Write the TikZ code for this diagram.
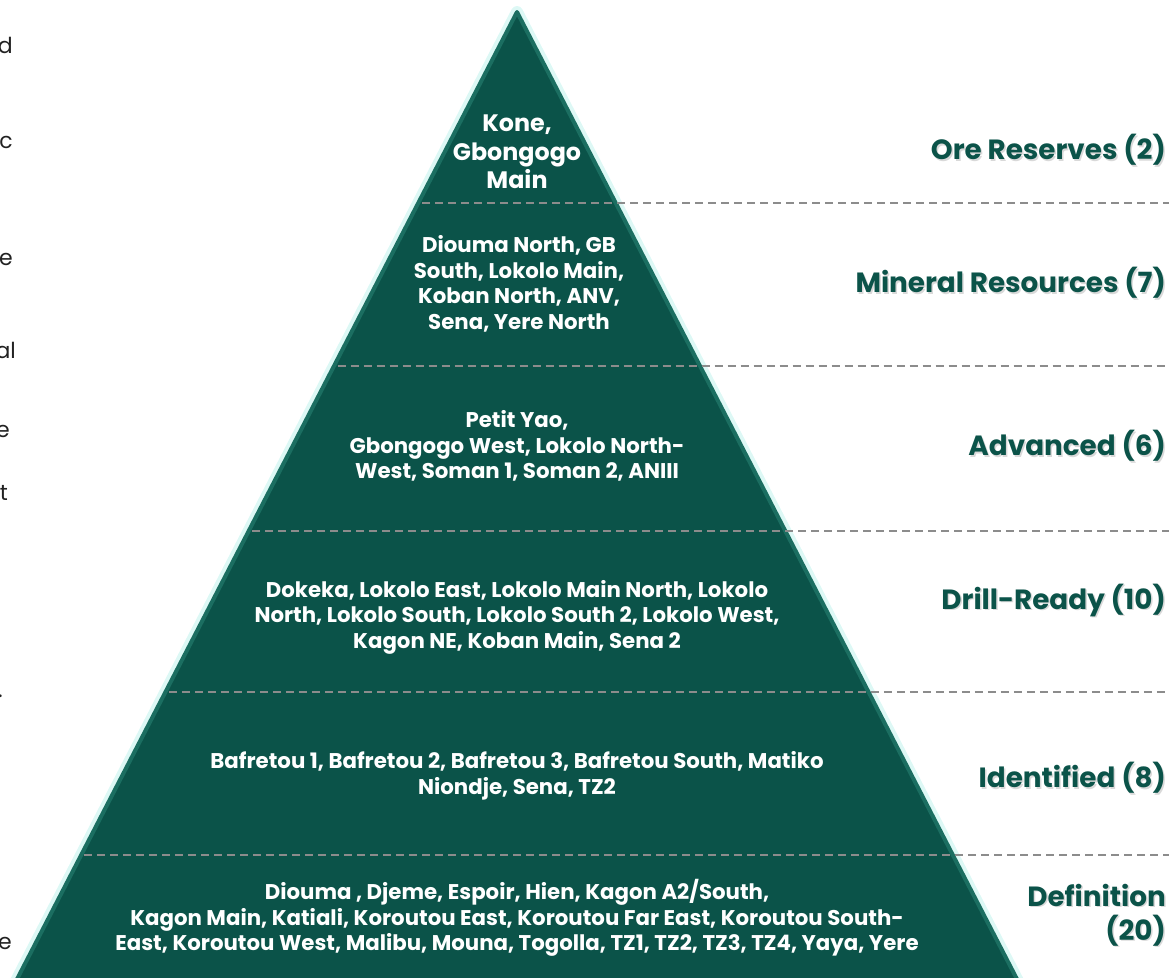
\documentclass[tikz,border=0pt]{standalone}
\usepackage{fontspec}
\setmainfont{Poppins}
\usetikzlibrary{positioning}
\definecolor{pineteal}{HTML}{0B5349}
\definecolor{edgeteal}{HTML}{1B6E61}
\definecolor{glowcyan}{HTML}{DDF8F5}
\definecolor{sepgray}{HTML}{8C8C8C}
\definecolor{inkgray}{HTML}{222222}

\tikzset{
  tiertext/.style={align=center, text=white, inner sep=0pt, font=\bfseries\fontsize{21.3}{25.5}\selectfont},
  toptext/.style={tiertext, font=\bfseries\fontsize{23.8}{28.5}\selectfont},
  stagelabel/.style={anchor=east, align=right, text=pineteal, inner sep=0pt, font=\bfseries\fontsize{27.8}{34}\selectfont},
  stageshadow/.style={stagelabel, text=black, opacity=.15},
  separator/.style={sepgray, line width=1.8pt, dash pattern=on 8pt off 5pt},
  clipped/.style={anchor=base east, text=inkgray, inner sep=0pt, font=\fontsize{22}{26}\selectfont}
}

\begin{document}
\begin{tikzpicture}[x=1pt, y=-1pt]
    \useasboundingbox (0,0) rectangle (1169,977);

    % pyramid body
    \coordinate (apex) at (517,12);
    \coordinate (baseL) at (11.4,990);
    \coordinate (baseR) at (1022.6,990);
    \draw[glowcyan, line width=12pt, line join=round] (apex) -- (baseL) -- (baseR) -- cycle;
    \fill[pineteal] (apex) -- (baseL) -- (baseR) -- cycle;
    \draw[edgeteal, line width=4pt, line join=round] (apex) -- (baseL) -- (baseR) -- cycle;

    % tier separators
    \foreach \y in {203,366,531,692,855}
        \draw[separator] ({521-0.518*(\y-12)},\y) -- (1169,\y);

    % tier contents
    \node (ore) [toptext] at (517,152) {Kone,\\Gbongogo\\Main};
    \node (mineral) [tiertext] at (519,284) {Diouma North, GB\\South, Lokolo Main,\\Koban North, ANV,\\Sena, Yere North};
    \node (advanced) [tiertext] at (517,446) {Petit Yao,\\Gbongogo West, Lokolo North-\\West, Soman 1, Soman 2, ANIII};
    \node (drill) [tiertext] at (517,617) {Dokeka, Lokolo East, Lokolo Main North, Lokolo\\North, Lokolo South, Lokolo South 2, Lokolo West,\\Kagon NE, Koban Main, Sena 2};
    \node (identified) [tiertext] at (517,776) {Bafretou 1, Bafretou 2, Bafretou 3, Bafretou South, Matiko\\Niondje, Sena, TZ2};
    \node (definition) [tiertext] at (517,918) {Diouma , Djeme, Espoir, Hien, Kagon A2/South,\\Kagon Main, Katiali, Koroutou East, Koroutou Far East, Koroutou South-\\East, Koroutou West, Malibu, Mouna, Togolla, TZ1, TZ2, TZ3, TZ4, Yaya, Yere};

    % stage labels on the right
    \foreach \y/\name/\txt in {150/oreLbl/{Ore Reserves (2)}, 283/mineralLbl/{Mineral Resources (7)},
                              446/advancedLbl/{Advanced (6)}, 600/drillLbl/{Drill-Ready (10)},
                              778/identifiedLbl/{Identified (8)}, 915/definitionLbl/{Definition\\(20)}} {
        \node (\name-sh) [stageshadow] at (1167.5,\y+1.5) {\txt};
        \node (\name) [stagelabel] at (1166,\y) {\txt};
    }

    % text cut off at the left margin
    \node (frag1) [clipped] at (13,53) {d};
    \node (frag2) [clipped] at (13,148) {c};
    \node (frag3) [clipped] at (13,265) {e};
    \node (frag4) [clipped] at (16,358) {al};
    \node (frag5) [clipped] at (10,437) {e};
    \node (frag6) [clipped] at (8,500) {t};
    \node (frag7) [clipped] at (3,697) {.};
    \node (frag8) [clipped] at (12,949) {e};
\end{tikzpicture}
\end{document}
